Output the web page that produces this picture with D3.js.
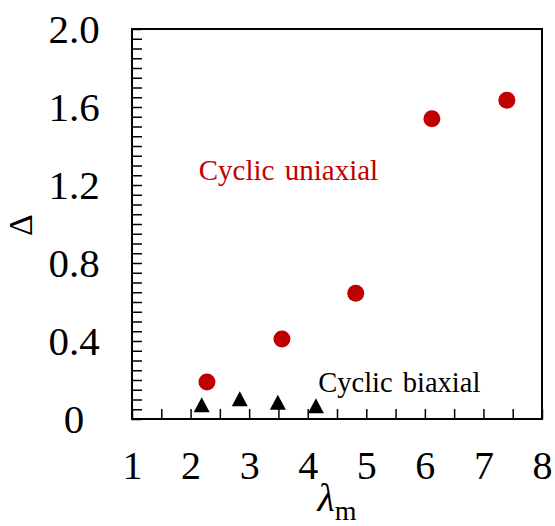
<!DOCTYPE html>
<meta charset="utf-8">
<style>
  body { margin: 0; background: #fff; }
  svg text { font-family: "Liberation Serif", "Times New Roman", serif; }
  .frame { fill: none; stroke: #000; stroke-width: 2px; }
  .axis path { display: none; }
  .axis line { stroke: #000; stroke-width: 1.5px; }
</style>
<svg width="555" height="526"></svg>
<script src="https://d3js.org/d3.v7.min.js"></script>
<script>

// data
var uniaxialLambda = [2.28, 3.56, 4.82, 6.12, 7.40];
var uniaxialDelta  = [0.19, 0.41, 0.645, 1.54, 1.635];

var biaxialLambda = [2.19, 2.84, 3.49, 4.14];
var biaxialDelta  = [0.073, 0.104, 0.086, 0.068];

var xTickLabels = [1, 2, 3, 4, 5, 6, 7, 8];
var yTickLabels = ["0", "0.4", "0.8", "1.2", "1.6", "2.0"];

var svg = d3.select("svg"),
    margin = {top: 29, right: 13, bottom: 107, left: 132},
    width = +svg.attr("width") - margin.left - margin.right,
    height = +svg.attr("height") - margin.top - margin.bottom;

var x = d3.scaleLinear().domain([1, 8]).range([0, width]),
    y = d3.scaleLinear().domain([0, 2]).range([height, 0]);

var g = svg.append("g")
    .attr("transform", "translate(" + margin.left + "," + margin.top + ")");

// minor ticks every 0.05 on y, every 0.5 on x, all pointing inwards
var yAxis = d3.axisLeft(y)
    .tickValues(d3.range(0, 2.0001, 0.05))
    .tickSize(-10)
    .tickFormat(function(d) {
      var i = Math.round(d / 0.4 * 1000) / 1000;
      return Number.isInteger(i) ? yTickLabels[i] : "";
    });

var xAxis = d3.axisBottom(x)
    .tickValues(d3.range(1, 8.0001, 0.5))
    .tickSize(-10)
    .tickFormat(function(d) { return Number.isInteger(d) ? xTickLabels[d - 1] : ""; });

g.append("g")
    .attr("class", "axis axis--y")
    .call(yAxis)
  .selectAll("text")
    .attr("x", -58)
    .attr("dy", "0.34em")
    .attr("text-anchor", "middle")
    .style("font-size", "41px")
    .style("fill", "#000");

g.append("g")
    .attr("class", "axis axis--x")
    .attr("transform", "translate(0," + height + ")")
    .call(xAxis)
  .selectAll("text")
    .attr("y", 60)
    .attr("dy", 0)
    .style("font-size", "40px")
    .style("fill", "#000");

g.append("rect")
    .attr("class", "frame")
    .attr("width", width)
    .attr("height", height);

// axis titles
svg.append("text")
    .attr("transform", "translate(32,225) rotate(-90)")
    .attr("text-anchor", "middle")
    .style("font-size", "34px")
    .text("Δ");

var xt = svg.append("text")
    .attr("x", 337)
    .attr("y", 511)
    .attr("text-anchor", "middle")
    .style("font-size", "40px");
xt.append("tspan").style("font-style", "italic").text("λ");
xt.append("tspan").attr("dy", 9).style("font-size", "28px").text("m");

// uniaxial circles
g.selectAll(".uni")
    .data(uniaxialLambda)
  .enter().append("circle")
    .attr("class", "uni")
    .attr("cx", function(d) { return x(d); })
    .attr("cy", function(d, i) { return y(uniaxialDelta[i]); })
    .attr("r", 8.5)
    .style("fill", "#C00000");

// biaxial triangles, centred on their bounding box
var tri = "M0,-7.5L8,7.5L-8,7.5Z";
g.selectAll(".bi")
    .data(biaxialLambda)
  .enter().append("path")
    .attr("class", "bi")
    .attr("d", tri)
    .attr("transform", function(d, i) { return "translate(" + x(d) + "," + y(biaxialDelta[i]) + ")"; })
    .style("fill", "#000");

// annotations
g.append("text")
    .attr("x", x(2.14))
    .attr("y", y(1.228))
    .style("font-size", "29px")
    .style("word-spacing", "3px")
    .style("fill", "#C00000")
    .text("Cyclic uniaxial");

g.append("text")
    .attr("x", x(4.18))
    .attr("y", y(0.137))
    .style("font-size", "28.5px")
    .style("word-spacing", "3px")
    .style("fill", "#000")
    .text("Cyclic biaxial");

</script>
